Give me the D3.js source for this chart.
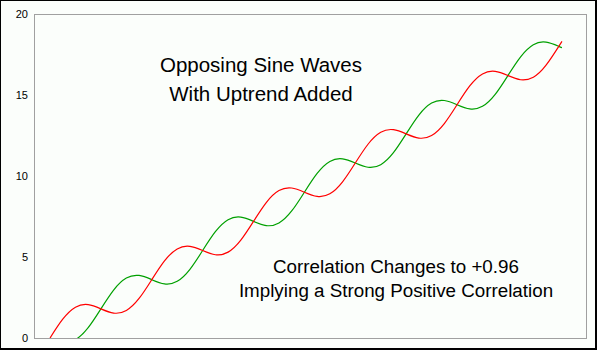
<!DOCTYPE html>
<html>
<head>
<meta charset="utf-8">
<script src="https://cdn.jsdelivr.net/npm/d3@7"></script>
<style>
  html, body { margin: 0; padding: 0; background: #000; }
  svg { display: block; }
  text { font-family: "Liberation Sans", Arial, sans-serif; fill: #000; }
</style>
</head>
<body>
<script>
// Step index along the horizontal axis (no labels are shown for it)
const steps = [0, 1, 2, 3, 4, 5, 6, 7, 8, 9, 10, 11, 12, 13, 14, 15, 16, 17, 18, 19, 20,
  21, 22, 23, 24, 25, 26, 27, 28, 29, 30, 31, 32, 33, 34, 35, 36, 37, 38, 39, 40, 40.25];

// Sine wave plus uptrend
const redSeries = [0.00, 1.16, 1.90, 2.06, 1.80, 1.54, 1.70, 2.44, 3.60, 4.76, 5.50,
  5.66, 5.40, 5.14, 5.30, 6.04, 7.20, 8.36, 9.10, 9.26, 9.00,
  8.74, 8.90, 9.64, 10.80, 11.96, 12.70, 12.86, 12.60, 12.34, 12.50,
  13.24, 14.40, 15.56, 16.30, 16.46, 16.20, 15.94, 16.10, 16.84, 18.00, 18.31];

// Opposing sine wave plus the same uptrend
const greenSeries = [0.00, -0.26, -0.10, 0.64, 1.80, 2.96, 3.70, 3.86, 3.60, 3.34, 3.50,
  4.24, 5.40, 6.56, 7.30, 7.46, 7.20, 6.94, 7.10, 7.84, 9.00,
  10.16, 10.90, 11.06, 10.80, 10.54, 10.70, 11.44, 12.60, 13.76, 14.50,
  14.66, 14.40, 14.14, 14.30, 15.04, 16.20, 17.36, 18.10, 18.26, 18.00, 17.92];

const yTicks = [0, 5, 10, 15, 20];
const titleLines = ["Opposing Sine Waves", "With Uptrend Added"];
const noteLines = ["Correlation Changes to +0.96", "Implying a Strong Positive Correlation"];

const W = 597, H = 350;
const plot = { left: 34, top: 14, right: 586, bottom: 338 };

const svg = d3.select("body").append("svg")
  .attr("width", W).attr("height", H);

// Outer black frame with a light panel inside
svg.append("rect").attr("x", 0).attr("y", 0).attr("width", W).attr("height", H).attr("fill", "#000");
svg.append("rect").attr("x", 1).attr("y", 1).attr("width", W - 3).attr("height", H - 3).attr("fill", "#fbfefb");

const x = d3.scaleLinear().domain([-1.26, 42.14]).range([plot.left, plot.right]);
const y = d3.scaleLinear().domain([0, 20]).range([plot.bottom, plot.top]);

// Plot frame
svg.append("rect")
  .attr("x", plot.left + 0.5).attr("y", plot.top + 0.5)
  .attr("width", plot.right - plot.left).attr("height", plot.bottom - plot.top)
  .attr("fill", "none").attr("stroke", "#a0a0a0").attr("stroke-width", 1);

// Y axis labels only (no tick marks, no domain line)
const yAxis = d3.axisLeft(y).tickValues(yTicks).tickSize(0).tickPadding(6);
const gy = svg.append("g").attr("transform", `translate(${plot.left},0)`).call(yAxis);
gy.select(".domain").remove();
gy.selectAll("text").style("font-size", "11px").style("font-family", '"Liberation Sans", Arial, sans-serif').attr("fill", "#000");

// Clip the series to the plot area
svg.append("clipPath").attr("id", "plotClip")
  .append("rect")
  .attr("x", plot.left + 1).attr("y", plot.top + 1)
  .attr("width", plot.right - plot.left - 1).attr("height", plot.bottom - plot.top - 1);

const line = d3.line()
  .x((d, i) => x(steps[i]))
  .y(d => y(d))
  .curve(d3.curveNatural);

const g = svg.append("g").attr("clip-path", "url(#plotClip)");
g.append("path").datum(greenSeries).attr("d", line)
  .attr("fill", "none").attr("stroke", "#00a000").attr("stroke-width", 1.2);
g.append("path").datum(redSeries).attr("d", line)
  .attr("fill", "none").attr("stroke", "#ff0000").attr("stroke-width", 1.2);

// Annotations
svg.append("g").selectAll("text").data(titleLines).join("text")
  .attr("x", 261).attr("y", (d, i) => 72 + i * 29)
  .attr("text-anchor", "middle").style("font-size", "20.5px").text(d => d);

svg.append("g").selectAll("text").data(noteLines).join("text")
  .attr("x", 396).attr("y", (d, i) => 273 + i * 24)
  .attr("text-anchor", "middle").style("font-size", "18.8px").text(d => d);
</script>
</body>
</html>
